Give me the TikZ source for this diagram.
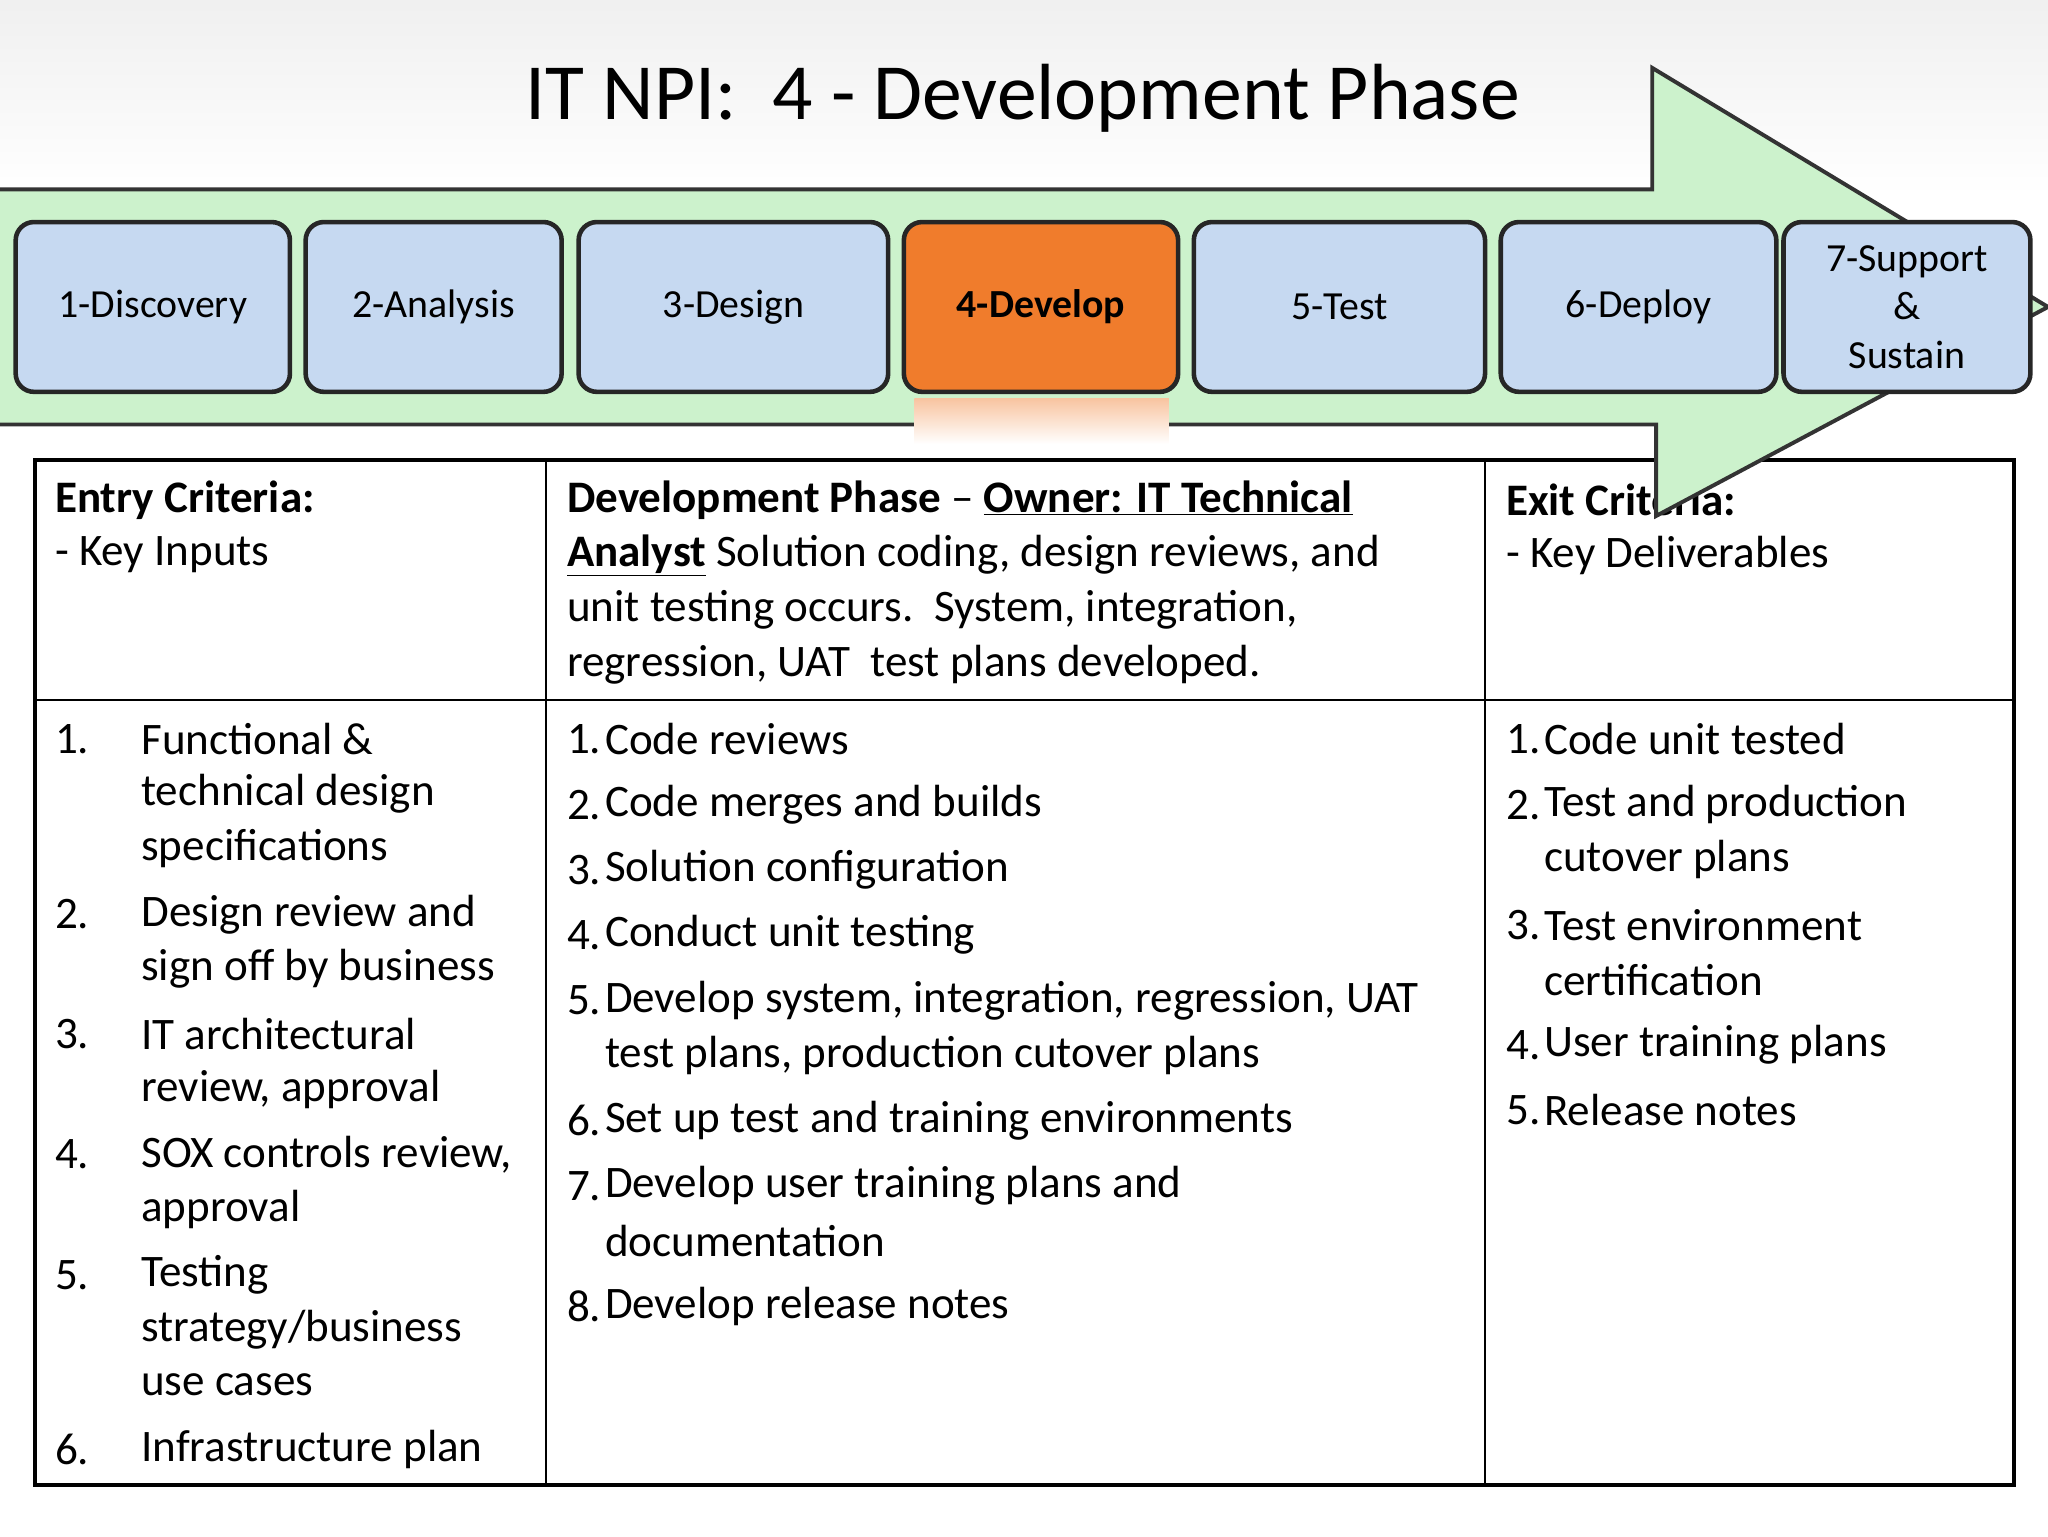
\documentclass[tikz,border=0pt]{standalone}
\usepackage{fontspec}
\setmainfont{Carlito}
\begin{document}
\begin{tikzpicture}[x=1pt,y=-1pt,
  phase/.style={draw=black!85,line width=3.5pt,rounded corners=14pt,fill=phaseblue},
  tx/.style={anchor=west,inner sep=0pt,font=\fontsize{34.5}{40}\selectfont},
  ]
\definecolor{phaseblue}{HTML}{C6D9F1}
\definecolor{arrowgreen}{HTML}{CCF2CC}
\definecolor{devorange}{HTML}{F07C2C}
\useasboundingbox (0,0) rectangle (1568,1176);
\shade[top color=black!6,bottom color=white] (0,0) rectangle (1568,150);
\node[font=\fontsize{61}{64}\selectfont] (title) at (783,75) {IT NPI:\ \ 4 - Development Phase};
% table
\draw[line width=3pt] (27,352) rectangle (1542,1137);
\draw[line width=2pt] (418,352) -- (418,1137) (1137,352) -- (1137,1137) (27,536) -- (1542,536);
\node[tx] (eh1) at (42,383) {\textbf{Entry Criteria:}};
\node[tx] (eh2) at (42,425) {- Key Inputs};
\node[tx] (xh1) at (1153,383) {\textbf{Exit Criteria:}};
\node[tx] (xh2) at (1153,425) {- Key Deliverables};
\node[tx] (mh1) at (434,383) {\textbf{Development Phase} -- \textbf{\underline{Owner: IT Technical}}};
\node[tx] (mh2) at (434,425) {\textbf{\underline{Analyst}} Solution coding, design reviews, and};
\node[tx] (mh3) at (434,467) {unit testing occurs.\ \ System, integration,};
\node[tx] (mh4) at (434,509) {regression, UAT\ \ test plans developed.};
% entry list
\foreach \n/\y in {1./566,2./700,3./792,4./884,5./976,6./1110}
  \node[tx] at (42,\y) {\n};
\foreach \t/\y in {Functional \&/566,technical design/608,specifications/650,Design review and/700,sign off by business/742,IT architectural/792,{review, approval}/834,{SOX controls review,}/884,approval/926,Testing/976,{strategy\slash business}/1018,use cases/1060,Infrastructure plan/1110}
  \node[tx] at (108,\y) {\t};
% middle list
\foreach \n/\y in {1./566,2./616,3./666,4./716,5./766,6./858,7./908,8./1000}
  \node[tx] at (434,\y) {\n};
\foreach \t/\y in {Code reviews/566,Code merges and builds/616,Solution configuration/666,Conduct unit testing/716,{Develop system, integration, regression, UAT}/766,{test plans, production cutover plans}/808,Set up test and training environments/858,Develop user training plans and/908,documentation/950,Develop release notes/1000}
  \node[tx] at (463,\y) {\t};
% exit list
\foreach \n/\y in {1./566,2./616,3./708,4./800,5./850}
  \node[tx] at (1153,\y) {\n};
\foreach \t/\y in {Code unit tested/566,Test and production/616,cutover plans/658,Test environment/708,certification/750,User training plans/800,Release notes/850}
  \node[tx] at (1182,\y) {\t};
% arrow
\draw[fill=arrowgreen,draw=black!80,line width=3pt,line join=miter]
  (-5,145) -- (1265,145) -- (1265,52) -- (1568,235) -- (1268,395) -- (1268,325) -- (-5,325) -- cycle;
% phases
\foreach \nm/\a/\b/\t in {p1/12/222/1-Discovery,p2/234/430/2-Analysis,p3/443/680/3-Design,p5/914/1137/5-Test,p6/1149/1360/6-Deploy}
  \node[phase,minimum width={\b-\a},minimum height=130,font=\fontsize{30.5}{34}\selectfont] (\nm) at ({(\a+\b)/2},235) {\t};
\shade[top color=devorange!45,bottom color=white] (700,305) rectangle (895,340);
\node[phase,fill=devorange,minimum width=210,minimum height=130,font=\bfseries\fontsize{30.5}{34}\selectfont] (p4) at (797,235) {4-Develop};
\node[phase,minimum width=189,minimum height=130,align=center,font=\fontsize{30.5}{37}\selectfont] (p7) at (1460,235) {7-Support\\\&\\Sustain};
\end{tikzpicture}
\end{document}
